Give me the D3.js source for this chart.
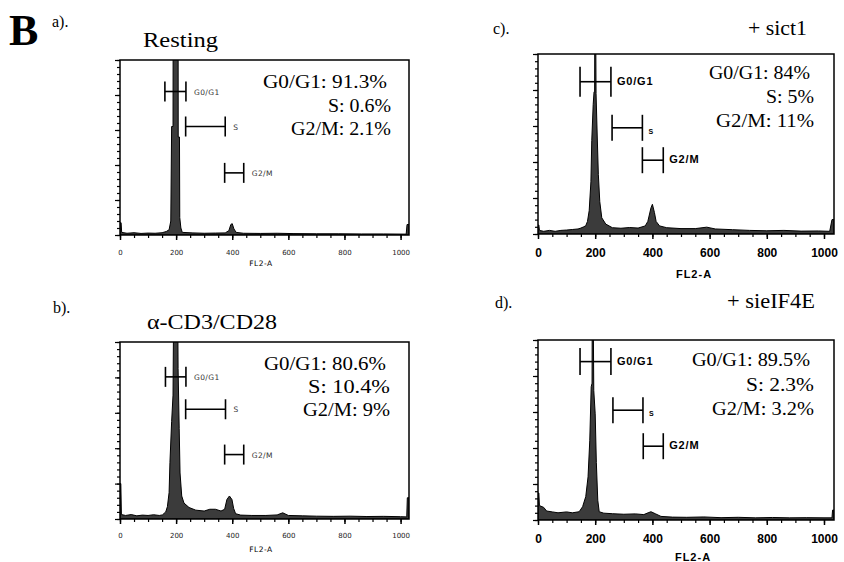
<!DOCTYPE html>
<html>
<head>
<meta charset="utf-8">
<script src="https://cdn.jsdelivr.net/npm/d3@7"></script>
<style>
  body { margin: 0; background: #fff; }
  svg { display: block; }
</style>
</head>
<body>
<svg id="chart" width="844" height="562"></svg>
<script>
// histogram outlines: [FL2-A channel, % of plot height]
const restingCurve = [
    [0, 7], [4, 7], [6, 1.5], [25, 1], [50, 1.3], [75, 0.9], [100, 1.1], [125, 1], [150, 1.3], [165, 2],
    [175, 3], [181, 8], [184, 62], [189, 62], [189.5, 140], [207, 140], [207.5, 56], [212, 56], [213, 10], [217, 4],
    [222, 1.5], [260, 1.2], [300, 1], [340, 1.1], [375, 1.2], [388, 2.5], [395, 6], [400, 6.5], [406, 3.5], [414, 1.5],
    [440, 1], [500, 0.9], [560, 1], [620, 0.8], [700, 0.7], [780, 0.7], [860, 0.6], [940, 0.6], [1020, 0.5], [1023, 6], [1030, 6]
]
const cd3Curve = [
    [0, 20], [3, 20], [5, 2.5], [20, 2], [40, 2.5], [60, 1.8], [80, 2.2], [100, 2], [120, 2.4], [140, 2],
    [151, 2.3], [163, 4], [169, 7], [175, 15], [178, 32], [184, 55], [189, 70], [192, 140], [205, 140], [207, 85],
    [211, 51], [214, 26], [220, 13], [228, 9], [246, 6.5], [270, 5], [300, 4.5], [320, 5.5], [340, 5.5], [360, 4.5],
    [373, 5.5], [381, 11], [390, 13], [399, 11], [405, 6], [412, 3], [430, 2.2], [470, 2], [520, 2], [560, 2.3],
    [580, 3.5], [600, 2], [650, 1.8], [700, 1.6], [760, 1.5], [820, 1.6], [880, 1.4], [940, 1.5], [1000, 1.3], [1022, 1.2],
    [1024, 12], [1030, 12]
]
const sict1Curve = [
    [0, 5], [3, 5], [5, 2], [20, 1.5], [40, 2], [60, 1.5], [80, 2], [100, 2.2], [120, 2.5], [140, 2.8],
    [150, 3.3], [160, 4], [167, 4.6], [173, 7], [179, 13], [185, 29], [188, 52], [193, 72], [196, 79], [198, 79],
    [199, 140], [201, 140], [203, 78], [207, 55], [211, 33], [216, 18], [223, 9], [237, 5.5], [260, 3.5], [290, 3.2],
    [320, 3.6], [350, 3.3], [375, 4.5], [384, 7], [395, 14.5], [400, 16.5], [407, 12], [413, 7], [425, 4.5], [450, 3.5],
    [500, 3], [550, 3], [590, 3.8], [620, 2.8], [680, 2.4], [740, 2], [800, 1.8], [860, 2], [920, 1.6], [980, 1.7],
    [1020, 1.5], [1028, 8], [1035, 8]
]
const sieif4eCurve = [
    [0, 15], [3, 15], [5, 8], [20, 7], [30, 5], [50, 4.5], [70, 4], [100, 4.5], [120, 4], [144, 4.6],
    [156, 7.4], [167, 13], [175, 24], [181, 44], [186, 74], [189, 76], [190, 140], [192, 140], [195, 72], [200, 59],
    [204, 32], [209, 11], [214, 4.6], [230, 3.8], [260, 3.5], [300, 3.2], [340, 3.4], [370, 3], [385, 4], [395, 4.6],
    [410, 3.5], [430, 2], [470, 1.6], [520, 1.5], [580, 1.7], [640, 1.3], [700, 1.5], [760, 1.2], [820, 1.4], [880, 1.2],
    [940, 1.3], [1000, 1.2], [1028, 1.2], [1030, 5.5], [1035, 5.5]
]

// marker gates [from, to] in channels
const gateNames = ["G0/G1", "S", "G2/M"]
const restingGates = [[160, 235], [234, 375], [373, 441]]
const cd3Gates = [[162, 235], [234, 376], [373, 441]]
const sict1Gates = [[147, 255], [259, 365], [365, 438]]
const sieif4eGates = [[147, 255], [262, 367], [368, 438]]

// phase percentages
const statNames = ["G0/G1", "S", "G2/M"]
const restingStats = ["91.3%", "0.6%", "2.1%"]
const cd3Stats = ["80.6%", "10.4%", "9%"]
const sict1Stats = ["84%", "5%", "11%"]
const sieif4eStats = ["89.5%", "2.3%", "3.2%"]

const xTickLabels = [0, 200, 400, 600, 800, 1000]
const xAxisTitle = "FL2-A"

const panels = [
    { tag: "a).", title: "Resting", curve: restingCurve, gates: restingGates, stats: restingStats,
      left: 120, right: 409, top: 60, bottom: 235, xMax: 1030, big: false,
      tagPos: [52, 27], titlePos: [143, 47, 75], gateY: [0.18, 0.38, 0.645], caps: [10, 10, 10],
      statsX: 391, statsY: [88, 112, 135], statsW: [124, 63, 100], tickBase: 255, labelPos: [261, 266] },
    { tag: "b).", title: "\u03b1-CD3/CD28", curve: cd3Curve, gates: cd3Gates, stats: cd3Stats,
      left: 120, right: 409, top: 342, bottom: 519, xMax: 1030, big: false,
      tagPos: [53, 313], titlePos: [147, 329, 130], gateY: [0.197, 0.38, 0.636], caps: [10, 10, 10],
      statsX: 390, statsY: [370, 393, 416], statsW: [122, 82, 87], tickBase: 538, labelPos: [261, 552] },
    { tag: "c).", title: "+ sict1", curve: sict1Curve, gates: sict1Gates, stats: sict1Stats,
      left: 538, right: 834, top: 54, bottom: 234, xMax: 1035, big: true,
      tagPos: [493, 34], titlePos: [748, 35, 59], gateY: [0.154, 0.41, 0.59], caps: [15, 13, 13],
      statsX: 814, statsY: [79, 103, 127], statsW: [101, 48, 98], tickBase: 257, labelPos: [694, 278] },
    { tag: "d).", title: "+ sieIF4E", curve: sieif4eCurve, gates: sieif4eGates, stats: sieif4eStats,
      left: 538, right: 834, top: 340, bottom: 520, xMax: 1035, big: true,
      tagPos: [495, 308], titlePos: [727, 308, 88], gateY: [0.12, 0.39, 0.59], caps: [13.5, 13, 13],
      statsX: 814, statsY: [366, 391, 415], statsW: [118, 68, 102], tickBase: 543, labelPos: [693, 561] }
]

const svg = d3.select("#chart")
const serif = "'Liberation Serif', 'Times New Roman', serif"
const sans = "'Liberation Sans', Arial, sans-serif"
const smallSans = "'DejaVu Sans', sans-serif"

svg.append("text")
    .attr("x", 9).attr("y", 45)
    .style("font-family", serif).style("font-weight", "bold").style("font-size", "44px")
    .text("B")

const drawPanel = function (p, i) {
    const g = svg.append("g")
    const x = d3.scaleLinear().domain([0, p.xMax]).range([p.left, p.right])
    const y = d3.scaleLinear().domain([0, 100]).range([p.bottom, p.top])

    g.append("text")
        .attr("x", p.tagPos[0]).attr("y", p.tagPos[1])
        .style("font-family", serif).style("font-size", "16px")
        .text(p.tag)

    g.append("text")
        .attr("x", p.titlePos[0]).attr("y", p.titlePos[1])
        .attr("textLength", p.titlePos[2]).attr("lengthAdjust", "spacingAndGlyphs")
        .style("font-family", serif).style("font-size", "20px")
        .text(p.title)

    const clipId = "clip-" + i
    g.append("clipPath").attr("id", clipId)
        .append("rect")
        .attr("x", p.left).attr("y", p.top)
        .attr("width", p.right - p.left).attr("height", p.bottom - p.top)

    const area = d3.area()
        .x(d => x(d[0]))
        .y0(y(0))
        .y1(d => y(d[1]))

    g.append("path")
        .datum(p.curve)
        .attr("clip-path", `url(#${clipId})`)
        .attr("d", area)
        .attr("fill", "#3b3b3b")
        .attr("stroke", "#000")
        .attr("stroke-width", 1)

    // y ticks, no labels
    g.append("g")
        .attr("transform", `translate(${p.left},0)`)
        .call(d3.axisLeft(y).tickValues(d3.range(0, 101, 4)).tickSize(3).tickFormat(""))
        .call(a => a.select(".domain").remove())
        .call(a => a.selectAll("line").attr("stroke-width", 1.2))
    g.append("g")
        .attr("transform", `translate(${p.left},0)`)
        .call(d3.axisLeft(y).tickValues(d3.range(0, 101, 20)).tickSize(5).tickFormat(""))
        .call(a => a.select(".domain").remove())
        .call(a => a.selectAll("line").attr("stroke-width", 1.2))

    // x ticks
    const fontPx = p.big ? 12 : 7
    g.append("g")
        .attr("transform", `translate(0,${p.bottom})`)
        .call(d3.axisBottom(x).tickValues(d3.range(0, 1001, 50)).tickSize(3).tickFormat(""))
        .call(a => a.select(".domain").remove())
        .call(a => a.selectAll("line").attr("stroke-width", 1.2))
    const xAxis = g.append("g")
        .attr("transform", `translate(0,${p.bottom})`)
        .call(d3.axisBottom(x).tickValues(xTickLabels).tickFormat(d3.format("d"))
            .tickSize(5).tickPadding(p.tickBase - p.bottom - 5 - fontPx * 0.71))
        .call(a => a.select(".domain").remove())
    xAxis.selectAll("line").attr("stroke-width", 1.5)
    xAxis.selectAll("text")
        .attr("fill", p.big ? "#000" : "#222")
        .style("font-family", p.big ? sans : smallSans)
        .style("font-weight", p.big ? "bold" : "normal")
        .style("font-size", fontPx + "px")

    g.append("text")
        .attr("x", p.labelPos[0]).attr("y", p.labelPos[1])
        .attr("text-anchor", "middle")
        .style("font-family", p.big ? sans : smallSans)
        .style("font-weight", p.big ? "bold" : "normal")
        .style("font-size", p.big ? "11px" : "7.5px")
        .style("letter-spacing", p.big ? "1px" : "0.5px")
        .text(xAxisTitle)

    // frame
    g.append("rect")
        .attr("x", p.left).attr("y", p.top)
        .attr("width", p.right - p.left).attr("height", p.bottom - p.top)
        .attr("fill", "none").attr("stroke", "#000").attr("stroke-width", 1.5)

    // marker gates
    p.gates.forEach((gate, k) => {
        const gy = p.top + p.gateY[k] * (p.bottom - p.top)
        const h = p.caps[k]
        const x0 = x(gate[0]), x1 = x(gate[1])
        const mg = g.append("g").attr("stroke", "#000").attr("stroke-width", 1.6)
        mg.append("line").attr("x1", x0).attr("x2", x1).attr("y1", gy).attr("y2", gy)
        mg.append("line").attr("x1", x0).attr("x2", x0).attr("y1", gy - h).attr("y2", gy + h)
        mg.append("line").attr("x1", x1).attr("x2", x1).attr("y1", gy - h).attr("y2", gy + h)

        const isS = gateNames[k] === "S"
        g.append("text")
            .attr("x", x1 + (p.big ? 6 : 8))
            .attr("y", gy + (isS && p.big ? 6 : 3))
            .style("font-family", p.big ? sans : smallSans)
            .style("font-weight", p.big ? "bold" : "normal")
            .style("font-size", p.big ? (isS ? "7px" : "11px") : "7.5px")
            .style("letter-spacing", p.big && !isS ? "0.8px" : "0.4px")
            .attr("fill", p.big ? "#000" : "#333")
            .text(gateNames[k])
    })

    // phase percentages
    p.stats.forEach((s, k) => {
        g.append("text")
            .attr("x", p.statsX - (k === 0 ? 4 : 0) - p.statsW[k])
            .attr("y", p.statsY[k])
            .attr("textLength", p.statsW[k]).attr("lengthAdjust", "spacingAndGlyphs")
            .style("font-family", serif).style("font-size", "19px")
            .text(statNames[k] + ": " + s)
    })
}

panels.forEach(drawPanel)
</script>
</body>
</html>
